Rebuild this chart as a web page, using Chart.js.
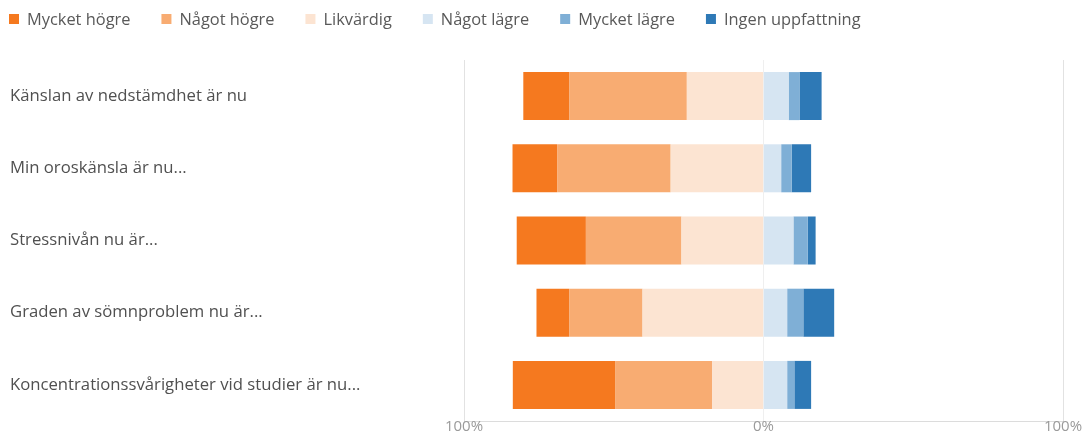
<!DOCTYPE html>
<html lang="sv">
<head>
<meta charset="utf-8">
<title>Upplevd psykisk hälsa</title>
<script src="https://cdn.jsdelivr.net/npm/chart.js@4/dist/chart.umd.min.js"></script>
<style>
  html, body { margin: 0; padding: 0; background: #fff; }
  #wrap { position: relative; width: 1086px; height: 437px; }
</style>
</head>
<body>
<div id="wrap"><canvas id="grafik"></canvas></div>
<script>
// Frågor (kategorier)
const fragor = [
  "Känslan av nedstämdhet är nu",
  "Min oroskänsla är nu...",
  "Stressnivån nu är...",
  "Graden av sömnproblem nu är...",
  "Koncentrationssvårigheter vid studier är nu..."
];

// Andel svar i procent
const mycketHogre = [15.3, 14.9, 23.1, 10.9, 34.3];
const nagotHogre  = [39.3, 37.9, 31.9, 24.5, 32.3];
const likvardig   = [25.6, 31.0, 27.4, 40.4, 17.1];
const nagotLagre  = [8.4, 5.9, 10.0, 7.9, 7.9];
const mycketLagre = [3.6, 3.5, 4.8, 5.4, 2.4];
const ingenUppf   = [7.4, 6.5, 2.6, 10.3, 5.6];

const xTicks = [-100, 0, 100];

// vänster sida ritas som negativa värden (närmast noll först)
const neg = arr => arr.map(v => -v);

const datasets = [
  { label: "Likvärdig",         data: neg(likvardig),   backgroundColor: "#fce4d2" },
  { label: "Något högre",       data: neg(nagotHogre),  backgroundColor: "#f8ac72" },
  { label: "Mycket högre",      data: neg(mycketHogre), backgroundColor: "#f5791f" },
  { label: "Något lägre",       data: nagotLagre,       backgroundColor: "#d6e5f2" },
  { label: "Mycket lägre",      data: mycketLagre,      backgroundColor: "#7fafd6" },
  { label: "Ingen uppfattning", data: ingenUppf,        backgroundColor: "#2e79b6" }
];

// ordning i förklaringen
const legendOrdning = [2, 1, 0, 3, 4, 5];

const typsnitt = '"Open Sans", "Noto Sans", sans-serif';

// enkel förklaring uppe till vänster
const legendRad = {
  id: "legendRad",
  afterDraw(chart) {
    const ctx = chart.ctx;
    ctx.save();
    ctx.font = "16.4px " + typsnitt;
    ctx.textBaseline = "middle";
    let x = 9;
    const y = 19;
    legendOrdning.forEach(i => {
      const ds = chart.data.datasets[i];
      ctx.fillStyle = ds.backgroundColor;
      ctx.fillRect(x, y - 5, 10, 10);
      ctx.fillStyle = "#595959";
      ctx.fillText(ds.label, x + 18, y + 1);
      x += 18 + ctx.measureText(ds.label).width + 31;
    });
    ctx.restore();
  }
};

new Chart(document.getElementById("grafik"), {
  type: "bar",
  data: {
    labels: fragor,
    datasets: datasets.map(d => Object.assign({
      borderWidth: 0,
      barPercentage: 0.665,
      categoryPercentage: 1
    }, d))
  },
  options: {
    indexAxis: "y",
    responsive: true,
    maintainAspectRatio: false,
    animation: false,
    layout: { padding: { left: 10, right: 23, top: 60, bottom: 0 } },
    plugins: {
      legend: { display: false },
      tooltip: { enabled: false }
    },
    scales: {
      x: {
        stacked: true,
        min: -100,
        max: 100,
        afterBuildTicks: s => { s.ticks = xTicks.map(v => ({ value: v })); },
        afterFit: s => { s.height = 16; },
        grid: {
          drawTicks: false,
          color: c => (c.tick && c.tick.value === 0) ? "#efefef" : "#e2e2e2"
        },
        border: { display: true, color: "#dcdcdc" },
        ticks: {
          padding: -3,
          color: "#9a9a9a",
          font: { family: typsnitt, size: 15 },
          callback: v => Math.abs(v) + "%"
        }
      },
      y: {
        stacked: true,
        afterFit: s => { s.width = 454; },
        grid: { display: false },
        border: { display: false },
        ticks: {
          autoSkip: false,
          crossAlign: "far",
          color: "#505050",
          font: { family: typsnitt, size: 16.7 }
        }
      }
    }
  },
  plugins: [legendRad]
});
</script>
</body>
</html>
